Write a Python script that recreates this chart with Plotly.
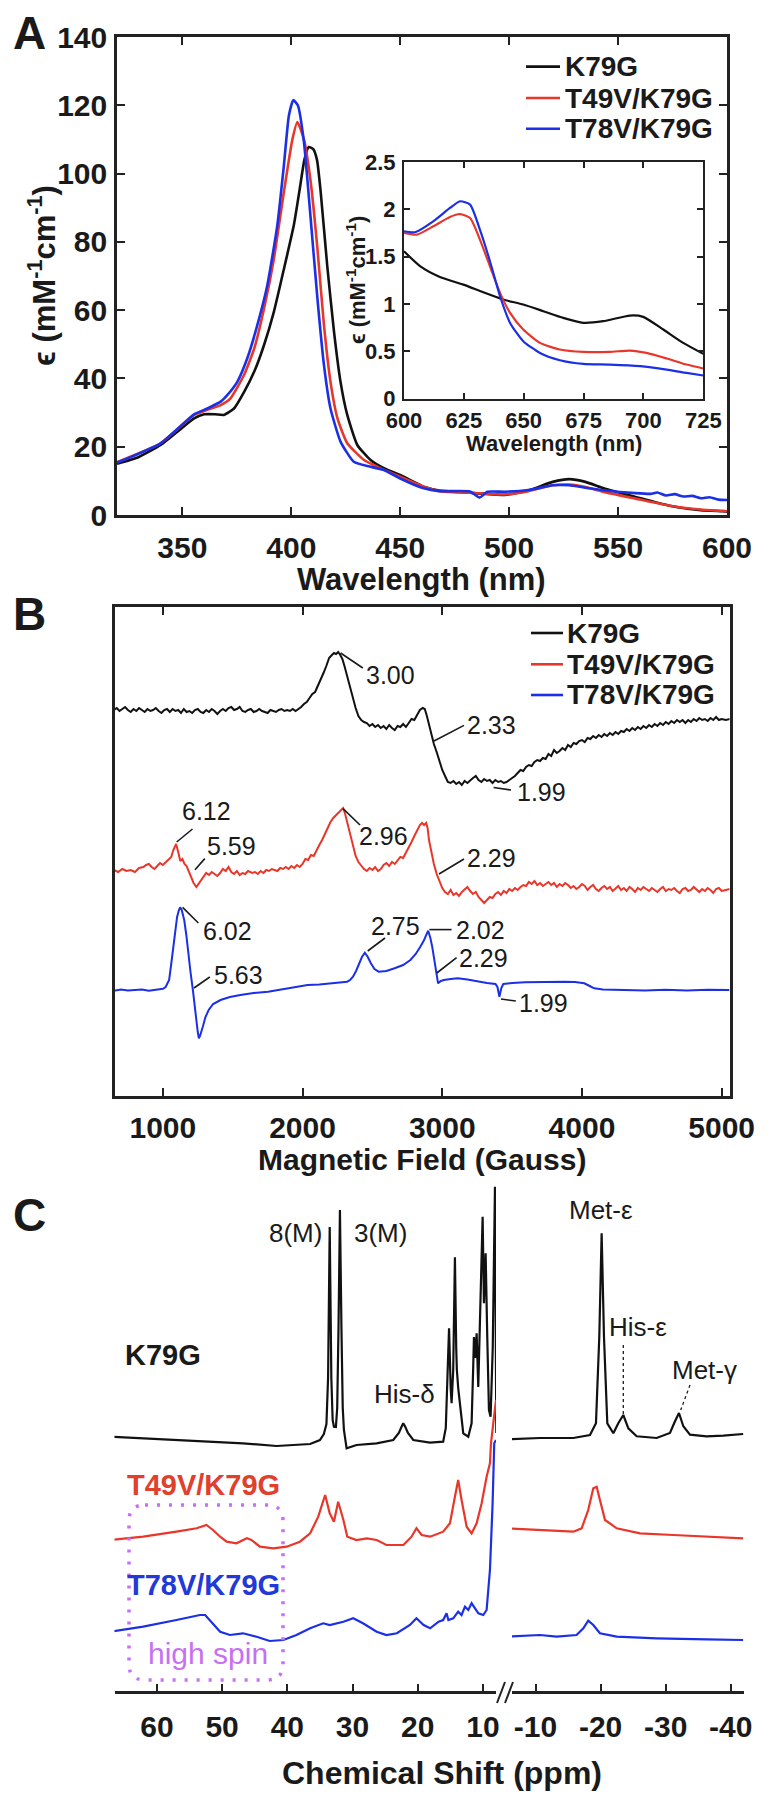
import plotly.graph_objects as go

W, H = 774, 1800
SHIFT = 8  # page body margin offset
def px(x): return (x - SHIFT) / W
def py(y): return 1 - (y - SHIFT) / H

FONT = "Liberation Sans, Arial, sans-serif"
BLACK = "#111111"
RED = "#e8372a"
BLUE = "#1b2fe6"
TXT = "#1a1a1a"
VIOLET = "#c670f2"

# ---------------- Panel A : UV-vis (wavelength nm, epsilon mM-1cm-1) -------------
uv_k79g = [(320, 15), (330, 17), (340, 20.5), (347.7, 24.4), (355.4, 28.3), (360, 29.5), (365, 29.5),
           (369, 29.3), (373.7, 31.2), (378.3, 36), (383, 42), (387.5, 49.8), (392, 59.5), (396.6, 72),
           (401.2, 85), (404, 96), (406, 104), (408, 107.8), (410, 107.2), (411.8, 104), (413.5, 94.6),
           (416.5, 73), (419.6, 53.7),
           (422.6, 39), (425.7, 29.3), (430.3, 20.5), (436.4, 16.1), (442.5, 13.7), (450, 11.7), (454.7, 10.2),
           (460.8, 8.3), (468, 7.2), (482, 6.5), (498, 5.9), (508.8, 7.2), (520, 9.7), (527.6, 10.5),
           (535, 9.7), (544, 7.7), (558, 5.3), (573, 2.8), (588, 1.4), (598, 1.1), (600, 1.0)]
uv_t49v = [(320, 15.5), (340, 21), (355.4, 29.3), (361.5, 30.8), (367.6, 32.2), (372, 34.1), (378.3, 41),
           (383, 48.8), (387.5, 60.5), (392, 75), (396.6, 94.6), (400.5, 110), (402.8, 115.1), (405.8, 110),
           (408.9, 97.6), (412, 78), (415, 55.6), (418, 39), (421.2, 28.3), (425.7, 21), (433.4, 16.1),
           (439.5, 14.1), (450, 11.2), (460.8, 8.3), (468, 7.0), (482, 6.5), (498, 6.0), (508.8, 7.0),
           (520, 8.7), (527.6, 8.9), (535, 8.2), (544, 6.7), (558, 4.8), (573, 2.8), (588, 1.6), (598, 1.2),
           (600, 1.1)]
uv_t78v = [(320, 15.3), (340, 21), (355.4, 29.5), (361.5, 31.2), (367.6, 33.2), (370.6, 35.1), (375.2, 39),
           (379.8, 45.9), (384.4, 55.6), (389, 67.3), (393.6, 84.9), (396.6, 102.4), (398.9, 117), (400.9, 121.5),
           (403, 120), (405.8, 109.3), (408.9, 86.8), (412, 63.4), (415, 43.9), (418, 31.2), (422.6, 21.5),
           (428.7, 15.6), (436.4, 14.1), (442.5, 13.2), (450, 10.7), (460.8, 7.8), (468, 7.0), (482, 6.9),
           (486.4, 5.1), (490, 6.8), (498, 6.8), (508.8, 7.3), (520, 8.7), (527.6, 8.7), (535, 8.0),
           (544, 7.2), (558, 6.4), (565, 6.2), (568, 6.6), (572, 5.7), (576, 6.1), (580, 5.4), (584, 5.6),
           (588, 4.9), (592, 5.2), (596, 4.5), (600, 4.4)]

# inset (600-725 nm)
ins_k79g = [(600, 1.556), (606.7, 1.40), (615, 1.285), (624.8, 1.204), (633.1, 1.123), (641.5, 1.046),
            (649.8, 0.993), (658.2, 0.923), (666.5, 0.852), (674.9, 0.80), (683.2, 0.817), (694.4, 0.877),
            (699.9, 0.863), (708.3, 0.729), (716.6, 0.588), (725, 0.472)]
ins_t49v = [(600, 1.75), (605.3, 1.732), (612.2, 1.82), (619.2, 1.919), (623.4, 1.95), (627.6, 1.908),
            (631.7, 1.68), (635.9, 1.398), (640.1, 1.116), (644.3, 0.905), (649.8, 0.729), (656.8, 0.588),
            (665.1, 0.518), (674.9, 0.493), (686, 0.493), (694.4, 0.507), (701.3, 0.482), (709.7, 0.423),
            (718, 0.359), (725, 0.317)]
ins_t78v = [(600, 1.768), (604.6, 1.757), (612.2, 1.873), (619.2, 2.014), (623.4, 2.085), (627.6, 2.049),
            (631.7, 1.785), (635.9, 1.451), (640.1, 1.081), (644.3, 0.799), (649.8, 0.606), (656.8, 0.482),
            (665.1, 0.405), (674.9, 0.366), (686, 0.359), (698.6, 0.342), (709.7, 0.306), (718, 0.271),
            (725, 0.243)]

# ---------------- Panel B : EPR (field G, derivative intensity, arb.) -------------
epr_k79g = [(650, 0), (670, 2), (690, -1), (710, 1), (730, 3), (750, 0), (770, -2), (790, 1), (810, -1),
            (830, 2), (850, 0), (870, -2), (890, 1), (910, -1), (930, 0), (950, 2), (970, -1), (990, -3),
            (1010, 0), (1030, 1), (1050, -2), (1070, 1), (1090, -1), (1110, 0), (1130, -3), (1150, 1),
            (1170, -2), (1190, -1), (1210, -3), (1230, 0), (1250, 1), (1270, -2), (1290, -3), (1310, 0),
            (1330, -2), (1350, 1), (1370, -1), (1390, -4), (1410, -1), (1430, 1), (1450, -1), (1470, 2),
            (1490, 3), (1510, 0), (1530, 1), (1550, 3), (1570, -1), (1590, -2), (1610, 0), (1630, 1),
            (1650, -2), (1670, -1), (1690, 1), (1710, -1), (1730, -2), (1750, -3), (1770, 0), (1790, -1),
            (1810, -2), (1830, 0), (1850, 1), (1870, -1), (1890, 0), (1910, -1), (1930, 1), (1950, -1),
            (1970, 1), (1990, 3), (2010, 6), (2030, 8), (2050, 12), (2070, 16), (2090, 18),
            (2110, 24), (2130, 30), (2150, 37), (2170, 44), (2190, 52), (2210, 55), (2225, 57), (2240, 56),
            (2255, 58), (2270, 55), (2285, 51), (2300, 44), (2320, 33), (2340, 22), (2360, 12), (2380, 2),
            (2400, -6), (2420, -10), (2440, -12), (2460, -13), (2480, -16), (2500, -14), (2520, -17),
            (2540, -15), (2560, -18), (2580, -16), (2600, -19), (2620, -15), (2640, -18), (2660, -20),
            (2680, -16), (2700, -17), (2720, -14), (2740, -17), (2760, -13), (2780, -9), (2800, -10),
            (2820, -5), (2840, 0), (2860, 2), (2875, 1), (2890, -6), (2905, -14), (2920, -24), (2940, -34),
            (2960, -42), (2980, -52), (3000, -60), (3020, -66), (3040, -72), (3060, -73), (3080, -71),
            (3100, -74), (3120, -72), (3140, -75), (3160, -71), (3180, -73), (3200, -70), (3220, -68),
            (3240, -66), (3260, -70), (3280, -72), (3300, -69), (3320, -71), (3340, -70), (3360, -73),
            (3380, -70), (3400, -72), (3420, -71), (3440, -73), (3460, -72), (3480, -70), (3500, -68),
            (3520, -66), (3540, -63), (3560, -60), (3580, -61), (3600, -57), (3620, -55), (3640, -56),
            (3660, -52), (3680, -50), (3700, -51), (3720, -48), (3740, -49), (3760, -44), (3780, -46),
            (3800, -40), (3820, -43), (3840, -41), (3860, -38), (3880, -40), (3900, -35), (3920, -37),
            (3940, -33), (3960, -34), (3980, -31), (4000, -30), (4020, -32), (4040, -28), (4060, -29),
            (4080, -26), (4100, -28), (4120, -25), (4140, -27), (4160, -24), (4180, -26), (4200, -23),
            (4220, -25), (4240, -22), (4260, -24), (4280, -21), (4300, -22), (4320, -19), (4340, -21),
            (4360, -18), (4380, -20), (4400, -17), (4420, -19), (4440, -16), (4460, -18), (4480, -15),
            (4500, -17), (4520, -14), (4540, -16), (4560, -13), (4580, -15), (4600, -12), (4620, -14),
            (4640, -11), (4660, -13), (4680, -10), (4700, -12), (4720, -10), (4740, -13), (4760, -10),
            (4780, -12), (4800, -9), (4820, -11), (4840, -8), (4860, -10), (4880, -9), (4900, -11),
            (4920, -8), (4940, -10), (4960, -7), (4980, -10), (5000, -9), (5030, -10), (5060, -9)]
epr_t49v = [(650, 0), (680, -2), (710, 1), (740, -1), (770, 0), (800, -2), (830, 2), (860, 3), (880, 5),
            (900, 6), (920, 3), (940, 1), (960, 4), (980, 7), (1000, 5), (1020, 8), (1040, 10), (1060, 13),
            (1075, 20), (1095, 26), (1110, 18), (1125, 9), (1140, 11), (1155, 6), (1170, 4), (1185, -1),
            (1200, -6), (1220, -13), (1240, -17), (1255, -14), (1270, -10), (1290, -6), (1310, -3), (1330, -5),
            (1350, -2), (1370, -4), (1390, -6), (1410, -3), (1430, 1), (1450, -1), (1470, 3), (1490, -2),
            (1510, -4), (1530, -1), (1550, -5), (1570, -3), (1590, -4), (1610, -1), (1640, -3), (1660, -2),
            (1680, -4), (1700, -1), (1720, -3), (1740, 0), (1760, -1), (1780, 1), (1800, 0), (1820, -1),
            (1840, 2), (1860, 1), (1880, 3), (1900, 1), (1920, 4), (1940, 2), (1960, 5), (1980, 3), (2000, 6),
            (2020, 11), (2040, 10), (2060, 15), (2080, 14), (2100, 20), (2120, 25), (2140, 30), (2160, 36),
            (2180, 42), (2200, 48), (2220, 52), (2240, 55), (2260, 58), (2275, 60), (2290, 62), (2305, 56),
            (2320, 48), (2340, 36), (2360, 24), (2380, 14), (2400, 8), (2420, 4), (2440, 1), (2460, -1),
            (2480, 2), (2500, 0), (2520, 3), (2540, -1), (2560, 1), (2580, 5), (2600, 7), (2620, 4), (2640, 8),
            (2660, 6), (2680, 10), (2700, 13), (2720, 12), (2740, 17), (2760, 22), (2780, 28), (2800, 34),
            (2820, 40), (2840, 45), (2855, 47), (2870, 45), (2885, 47), (2895, 42), (2905, 30), (2920, 18),
            (2940, 6), (2960, -4), (2980, -12), (3000, -18), (3020, -22), (3040, -24), (3060, -20), (3080, -25),
            (3100, -23), (3120, -26), (3140, -22), (3160, -19), (3180, -17), (3200, -21), (3220, -24),
            (3240, -22), (3260, -27), (3280, -30), (3300, -33), (3320, -30), (3340, -27), (3360, -28),
            (3380, -24), (3400, -22), (3420, -25), (3440, -21), (3460, -23), (3480, -19), (3500, -21),
            (3520, -18), (3540, -20), (3560, -17), (3580, -15), (3600, -16), (3620, -12), (3640, -14),
            (3660, -11), (3680, -15), (3700, -13), (3720, -16), (3740, -14), (3760, -12), (3780, -15),
            (3800, -13), (3820, -17), (3840, -14), (3860, -16), (3880, -13), (3900, -15), (3920, -18),
            (3940, -16), (3960, -19), (3980, -17), (4000, -14), (4020, -16), (4040, -20), (4060, -17),
            (4080, -15), (4100, -19), (4120, -21), (4140, -18), (4160, -16), (4180, -19), (4200, -17),
            (4220, -21), (4240, -18), (4260, -16), (4280, -20), (4300, -18), (4320, -21), (4340, -17),
            (4360, -19), (4380, -22), (4400, -18), (4420, -20), (4440, -17), (4460, -19), (4480, -21),
            (4500, -18), (4520, -20), (4540, -22), (4560, -19), (4580, -17), (4600, -21), (4620, -19),
            (4640, -20), (4660, -18), (4680, -21), (4700, -23), (4720, -19), (4740, -18), (4760, -21),
            (4780, -20), (4800, -17), (4820, -20), (4840, -22), (4860, -19), (4880, -21), (4900, -18),
            (4920, -20), (4940, -23), (4960, -19), (4980, -18), (5000, -21), (5030, -20), (5060, -19)]
epr_t78v = [(650, -0.7), (700, 0.5), (750, -0.5), (800, 0), (850, 0.6), (900, -0.7), (950, 0.4), (1000, 1.2),
            (1020, 3), (1045, 10), (1060, 26), (1074, 43), (1090, 60), (1102, 73), (1115, 80), (1124, 82.7),
            (1135, 80), (1153, 70), (1168, 55), (1181, 36.7), (1198, 18), (1215, 0), (1228, -18), (1240, -33),
            (1250, -42), (1258, -48.3), (1266, -46), (1286, -36.7), (1305, -27), (1328, -20), (1360, -14),
            (1413, -10), (1480, -7), (1555, -5), (1650, -3), (1753, -1.7), (1820, 0), (1894, 1.7), (1960, 3),
            (2036, 5), (2120, 5.5), (2206, 6.7), (2270, 7.5), (2319, 8.3), (2340, 10), (2361, 13.3),
            (2383, 19), (2404, 26.7), (2425, 33), (2446, 37.3), (2467, 33), (2489, 26.7), (2515, 21),
            (2545, 18.3), (2600, 19), (2659, 21.7), (2720, 25), (2772, 30), (2810, 36), (2843, 43.3),
            (2870, 50), (2899, 59.3), (2915, 52), (2928, 43.3), (2940, 32), (2947, 23.3), (2958, 14),
            (2970, 6.7), (2990, 9), (3012, 10), (3060, 11), (3112, 11.7), (3180, 10.5), (3253, 8.3),
            (3320, 7), (3381, 6), (3395, 3), (3409, -6.7), (3423, 2), (3437, 6), (3500, 7), (3593, 7.7),
            (3700, 8), (3800, 8.5), (3876, 8.3), (3950, 8), (4017, 6.7), (4055, 4), (4088, 1.7), (4150, 0.5),
            (4300, 0), (4450, -0.5), (4600, 0.3), (4750, -0.4), (4900, 0.2), (5056, 0)]

# ---------------- Panel C : 1H NMR (ppm, intensity arb.) -------------
nmr_k79g_low = [(67.2, 1.3), (57.0, -2), (46.8, -5.3), (41.65, -8), (36.5, -6), (35.0, -2), (34.4, 4),
                (34.0, 14), (33.75, 60), (33.5, 211), (33.25, 60), (33.05, 18), (32.85, 11.3), (32.55, 11),
                (32.35, 30), (32.15, 110), (31.93, 228), (31.7, 110), (31.5, 30), (31.32, 8), (30.91, -10.3),
                (29.38, -7), (26.31, -5.3), (23.75, -2), (22.9, 5), (22.5, 11), (22.22, 14.7), (21.9, 11),
                (21.5, 5), (20.68, -2), (18.13, -4.7), (16.1, -3.7), (15.7, 10), (15.45, 60), (15.2, 109.7),
                (14.95, 50), (14.81, 34.7), (14.56, 68), (14.3, 180.7), (14.1, 90), (14.0, 68), (13.79, 49.7),
                (13.53, 34.7), (13.02, 4.7), (12.25, 1.3), (11.74, 14.7), (11.5, 70), (11.38, 101),
                (11.15, 80), (10.97, 104.7), (10.72, 51), (10.46, 118), (10.05, 221.3), (9.85, 134.7),
                (9.59, 184.7), (9.34, 101), (9.08, 28), (8.83, 21.3), (8.5, 90), (8.16, 251.3), (7.95, 5)]
nmr_k79g_high = [(-5.57, -1.3), (-10.69, 0), (-15.81, 0), (-18.37, 3), (-19.29, 14.7), (-19.8, 101.3),
                 (-20.16, 204.7), (-20.52, 101.3), (-21.03, 14.7), (-21.96, 4.7), (-22.72, 14.7),
                 (-23.49, 23), (-24.26, 9.7), (-25.54, 1.7), (-28.61, 0), (-30.66, 5), (-31.43, 16.7),
                 (-32.04, 25), (-32.71, 11.7), (-33.73, 3.3), (-36.29, 1.7), (-38.85, 2.3), (-41.9, 4)]
nmr_t49v_low = [(67.2, 0), (62.1, 3.3), (57.0, 8.3), (53.9, 11.7), (52.4, 15), (51.4, 10), (50.3, 3.3),
                (49.3, -1.7), (47.8, -3.3), (46.2, 1.7), (45.5, 0), (44.2, -6.7), (42.16, -8.3), (40.1, -6.7),
                (38.07, -1.7), (36.5, 6.7), (35.26, 23.3), (34.2, 45), (33.5, 26.7), (32.85, 18.3), (32.2, 38.3),
                (31.4, 20), (30.8, 3.3), (29.4, 0), (27.8, 1.7), (26.3, 0), (24.8, -5), (22.2, -5), (20.95, 3.3),
                (20.2, 11.7), (19.4, 5), (18.1, 3.3), (16.1, 8.3), (15.06, 16.7), (14.3, 43.3), (13.8, 60),
                (13.28, 40), (12.5, 13.3), (11.74, 6.7), (10.97, 16.7), (10.2, 36.7), (9.44, 63.3),
                (8.93, 76.7), (8.77, 96.7), (8.42, 116.7), (8.0, 140)]
nmr_t49v_high = [(-5.57, 11.7), (-10.69, 10), (-15.81, 8.3), (-17.09, 11.7), (-18.1, 30), (-18.88, 51.7),
                 (-19.4, 53.3), (-19.9, 40), (-20.68, 20), (-22.47, 11.7), (-26.05, 6.7), (-31.17, 5),
                 (-36.29, 3.3), (-41.9, 1.7)]
nmr_t78v_low = [(67.2, 0.3), (62.1, 5.3), (57.0, 12), (53.4, 17), (52.6, 17), (51.9, 12), (50.3, 0.3),
                (48.8, -3), (46.8, -1.3), (44.7, -4.7), (42.7, -9), (40.6, -8), (38.6, -3), (36.5, 3.7),
                (34.5, 8.7), (33.5, 7), (31.4, 10.3), (29.9, 13.7), (28.4, 8.7), (26.3, 0.3), (24.8, -3),
                (23.2, -1.3), (21.2, 7), (20.2, 13.7), (19.1, 7), (18.1, 3.7), (16.8, 10.3), (16.1, 12),
                (15.58, 18.7), (15.3, 12), (14.56, 13.7), (13.8, 20.3), (13.28, 17), (12.76, 25.3), (12.25, 22),
                (11.74, 28.7), (11.2, 23.7), (10.7, 18.7), (9.95, 17), (9.44, 22), (8.93, 62), (8.52, 128.7),
                (8.27, 188.7), (8.06, 192), (8.0, 192)]
nmr_t78v_high = [(-5.57, -4.7), (-10.69, -3), (-13.25, -4.7), (-16.3, -3), (-17.35, 3.7), (-18.1, 11.3),
                 (-18.88, 7), (-19.9, -1.3), (-22.47, -4.7), (-28.6, -6.3), (-36.3, -7.3), (-41.9, -8)]

# tick labels
uv_ticks = [350, 400, 450, 500, 550, 600]
inset_ticks = [600, 625, 650, 675, 700, 725]
epr_ticks = [1000, 2000, 3000, 4000, 5000]
nmr_low_ticks = [60, 50, 40, 30, 20, 10]
nmr_high_ticks = [-10, -20, -30, -40]
nmr_high_ticktext = ["-10", "-20", "-30", "-40"]

# vertical stacking offsets (in axis units)
epr_offsets = {"K79G": 386, "T49V/K79G": 226, "T78V/K79G": 106}
nmr_offsets = {"K79G": 253, "T49V/K79G": 151, "T78V/K79G": 59}

series_names = ["K79G", "T49V/K79G", "T78V/K79G"]
series_colors = [BLACK, RED, BLUE]


def xs(p): return [a for a, b in p]
def ys(p, off=0): return [b + off for a, b in p]


fig = go.Figure()

for data, col in zip([uv_k79g, uv_t49v, uv_t78v], series_colors):
    fig.add_trace(go.Scatter(x=xs(data), y=ys(data), mode="lines", xaxis="x", yaxis="y",
                             line=dict(color=col, width=2.6, shape="spline", smoothing=0.5),
                             showlegend=False, hoverinfo="skip"))
for data, col in zip([ins_k79g, ins_t49v, ins_t78v], series_colors):
    fig.add_trace(go.Scatter(x=xs(data), y=ys(data), mode="lines", xaxis="x2", yaxis="y2",
                             line=dict(color=col, width=2.2, shape="spline", smoothing=0.6),
                             showlegend=False, hoverinfo="skip"))
for data, col, nm in zip([epr_k79g, epr_t49v, epr_t78v], series_colors, series_names):
    fig.add_trace(go.Scatter(x=xs(data), y=ys(data, epr_offsets[nm]), mode="lines", xaxis="x3", yaxis="y3",
                             line=dict(color=col, width=2.0), showlegend=False, hoverinfo="skip"))
for lo, hi, col, nm in zip([nmr_k79g_low, nmr_t49v_low, nmr_t78v_low],
                           [nmr_k79g_high, nmr_t49v_high, nmr_t78v_high], series_colors, series_names):
    fig.add_trace(go.Scatter(x=xs(lo), y=ys(lo, nmr_offsets[nm]), mode="lines", xaxis="x4", yaxis="y4",
                             line=dict(color=col, width=2.2), showlegend=False, hoverinfo="skip"))
    fig.add_trace(go.Scatter(x=xs(hi), y=ys(hi, nmr_offsets[nm]), mode="lines", xaxis="x5", yaxis="y5",
                             line=dict(color=col, width=2.2), showlegend=False, hoverinfo="skip"))


def frame_axis(size=30, **kw):
    d = dict(showline=True, linecolor="#222", linewidth=2.6, mirror="ticks", ticks="inside", ticklen=8,
             tickwidth=2, tickcolor="#222", showgrid=False, zeroline=False, automargin=False,
             tickfont=dict(family=FONT, size=size, color=TXT, weight="bold"))
    d.update(kw)
    return d


layout = dict(
    width=W, height=H, autosize=False, margin=dict(l=0, r=0, t=0, b=0, pad=0),
    paper_bgcolor="white", plot_bgcolor="white", showlegend=False,
    xaxis=frame_axis(domain=[px(117), px(727)], range=[320, 600], tickvals=uv_ticks,
                     anchor="y", ticklabelstandoff=4),
    yaxis=frame_axis(domain=[py(515), py(37)], range=[0, 140], tickvals=list(range(0, 141, 20)),
                     anchor="x", ticklabelstandoff=1),
    xaxis2=frame_axis(size=22, domain=[px(404), px(703.3)], range=[600, 725],
                      tickvals=inset_ticks, anchor="y2", ticklen=6, linewidth=2,
                      ticklabelstandoff=1),
    yaxis2=frame_axis(size=22, domain=[py(398.5), py(162)], range=[0, 2.5],
                      tickvals=[0, 0.5, 1, 1.5, 2, 2.5], ticktext=["0", "0.5", "1", "1.5", "2", "2.5"],
                      anchor="x2", ticklen=6, linewidth=2, ticklabelstandoff=2),
    xaxis3=frame_axis(domain=[px(114.5), px(729.5)], range=[654, 5056],
                      tickvals=epr_ticks, anchor="y3", ticklabelstandoff=3),
    yaxis3=dict(domain=[py(1096), py(607)], range=[0, 489], showline=True, linecolor="#222", linewidth=2.6,
                mirror=True, ticks="", showticklabels=False, showgrid=False, zeroline=False, anchor="x3",
                automargin=False),
    xaxis4=frame_axis(domain=[px(114.5), px(496)], range=[66.5, 8.0], tickvals=nmr_low_ticks,
                      mirror=False, anchor="y4", ticklen=7, ticklabelstandoff=7),
    yaxis4=dict(domain=[py(1691), py(1180)], range=[0, 511], visible=False, anchor="x4", automargin=False),
    xaxis5=frame_axis(domain=[px(512), px(744)], range=[-6.39, -42.03], tickvals=nmr_high_ticks,
                      ticktext=nmr_high_ticktext,
                      mirror=False, anchor="y5", ticklen=7, ticklabelstandoff=7),
    yaxis5=dict(domain=[py(1691), py(1180)], range=[0, 511], visible=False, anchor="x5", automargin=False),
)
fig.update_layout(**layout)

ann = []
def text(t, x, y, size, color=TXT, bold=False, xanchor="center", angle=0):
    ann.append(dict(text=t, x=px(x), y=py(y), xref="paper", yref="paper", showarrow=False,
                    xanchor=xanchor, yanchor="middle", textangle=angle,
                    font=dict(family=FONT, size=size, color=color, weight="bold" if bold else "normal")))

shapes = []
def seg(x0, y0, x1, y1, color=TXT, width=1.6, dash="solid"):
    shapes.append(dict(type="line", xref="paper", yref="paper", x0=px(x0), y0=py(y0), x1=px(x1), y1=py(y1),
                       line=dict(color=color, width=width, dash=dash)))

text("A", 29, 33, 46, bold=True)
text("B", 29, 614, 46, bold=True)
text("C", 29, 1215, 46, bold=True)

text("Wavelength (nm)", 422, 579, 31, bold=True)
text("ϵ (mM<sup>-1</sup>cm<sup>-1</sup>)", 42, 276, 31, bold=True, angle=-90)
text("Wavelength (nm)", 554, 443, 22, bold=True)
text("ϵ (mM<sup>-1</sup>cm<sup>-1</sup>)", 356, 280, 22, bold=True, angle=-90)

for (lx0, lx1, tx, ys_) in [(526, 560, 563, [66.6, 98, 128.7]), (531, 563, 565, [633, 664.3, 695])]:
    for nm, col, yy in zip(series_names, series_colors, ys_):
        seg(lx0, yy, lx1, yy, color=col, width=2.6)
        text(nm, tx, yy, 28, bold=True, xanchor="left")

text("Magnetic Field (Gauss)", 422, 1159, 30, bold=True)
b_labels = [("3.00", 390, 675, (340.6, 653, 362.8, 668)),
            ("2.33", 491, 725, (434, 741, 464, 725.4)),
            ("1.99", 541, 792, (493.6, 787.5, 511, 790)),
            ("6.12", 206, 811, (176.7, 842, 192.5, 829)),
            ("5.59", 232, 846, (195, 869.7, 204.8, 858.6)),
            ("2.96", 383, 836, (343, 808.6, 360, 825)),
            ("2.29", 491, 858, (439, 874, 464, 859)),
            ("6.02", 227, 931, (182.6, 907.4, 198.4, 923)),
            ("5.63", 239, 975, (194, 988, 209.8, 977)),
            ("2.75", 395, 926, (367.7, 951, 385, 938)),
            ("2.02", 480, 930, (429.4, 929.6, 451.6, 929.6)),
            ("2.29", 484, 958.5, (436.8, 973, 456.6, 957.7)),
            ("1.99", 543, 1003, (501, 999, 515.8, 1001))]
for t, x, y, (a, b, c, d) in b_labels:
    text(t, x, y, 25)
    seg(a, b, c, d, width=1.6)

text("Chemical Shift (ppm)", 442, 1773, 32, bold=True)
text("K79G", 163, 1355, 29, bold=True)
text("T49V/K79G", 203, 1485, 29, color="#e0402c", bold=True)
text("T78V/K79G", 203, 1585, 29, color="#2238d8", bold=True)
text("high spin", 208, 1653, 30, color=VIOLET)
text("8(M)", 295, 1233, 26)
text("3(M)", 380, 1233, 26)
text("His-δ", 405, 1394, 26)
text("Met-ε", 601, 1210, 26)
text("His-ε", 638, 1327, 26)
text("Met-γ", 704, 1370, 26)
seg(623.3, 1345, 623.3, 1415, width=1.3, dash="3px,3px")
seg(690, 1385, 680.7, 1410, width=1.3, dash="3px,3px")

seg(497, 1703, 505, 1682, color="#222", width=2)
seg(505, 1703, 513, 1682, color="#222", width=2)

x0, x1, y0, y1, r = 129, 283, 1505, 1680, 16
path = (f"M {px(x0 + r)},{py(y0)} L {px(x1 - r)},{py(y0)} Q {px(x1)},{py(y0)} {px(x1)},{py(y0 + r)} "
        f"L {px(x1)},{py(y1 - r)} Q {px(x1)},{py(y1)} {px(x1 - r)},{py(y1)} "
        f"L {px(x0 + r)},{py(y1)} Q {px(x0)},{py(y1)} {px(x0)},{py(y1 - r)} "
        f"L {px(x0)},{py(y0 + r)} Q {px(x0)},{py(y0)} {px(x0 + r)},{py(y0)} Z")
shapes.append(dict(type="path", xref="paper", yref="paper", path=path,
                   line=dict(color=VIOLET, width=3.5, dash="3px,9px")))

fig.update_layout(annotations=ann, shapes=shapes)
fig.write_html("out.html")
